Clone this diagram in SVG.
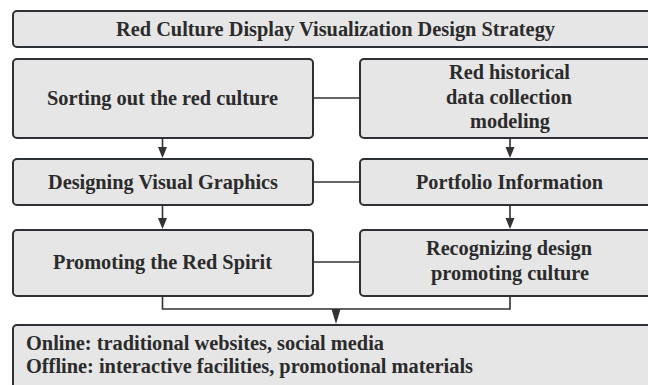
<svg xmlns="http://www.w3.org/2000/svg" width="648" height="385" viewBox="0 0 648 385">
<defs>
<style>
.box{fill:#e6e6e6;stroke:#2d3035;stroke-width:2}
.t{font-family:"Liberation Serif","Times New Roman",serif;font-weight:bold;font-size:20px;fill:#2b2b2b}
.c{fill:none;stroke:#333;stroke-width:1.6}
.ah{fill:#333}
</style>
</defs>
<rect width="648" height="385" fill="#fff"/>
<g id="title">
<rect class="box" x="13" y="11" width="660" height="36" rx="4"/>
<text class="t" x="116" y="36" textLength="439" lengthAdjust="spacingAndGlyphs">Red Culture Display Visualization Design Strategy</text>
</g>
<g id="n1">
<rect class="box" x="13" y="59" width="300" height="79" rx="4"/>
<text class="t" x="47" y="105" textLength="231" lengthAdjust="spacingAndGlyphs">Sorting out the red culture</text>
</g>
<g id="n2">
<rect class="box" x="360" y="59" width="300" height="79" rx="4"/>
<text class="t" x="449" y="79" textLength="121" lengthAdjust="spacingAndGlyphs">Red historical</text>
<text class="t" x="446" y="104" textLength="126" lengthAdjust="spacingAndGlyphs">data collection</text>
<text class="t" x="470" y="128" textLength="80" lengthAdjust="spacingAndGlyphs">modeling</text>
</g>
<g id="n3">
<rect class="box" x="13" y="159" width="300" height="46" rx="4"/>
<text class="t" x="48" y="189" textLength="230" lengthAdjust="spacingAndGlyphs">Designing Visual Graphics</text>
</g>
<g id="n4">
<rect class="box" x="360" y="159" width="300" height="46" rx="4"/>
<text class="t" x="416" y="189" textLength="187" lengthAdjust="spacingAndGlyphs">Portfolio Information</text>
</g>
<g id="n5">
<rect class="box" x="13" y="230" width="300" height="66" rx="4"/>
<text class="t" x="53" y="269" textLength="219" lengthAdjust="spacingAndGlyphs">Promoting the Red Spirit</text>
</g>
<g id="n6">
<rect class="box" x="360" y="230" width="300" height="66" rx="4"/>
<text class="t" x="426" y="255" textLength="166" lengthAdjust="spacingAndGlyphs">Recognizing design</text>
<text class="t" x="431" y="280" textLength="158" lengthAdjust="spacingAndGlyphs">promoting culture</text>
</g>
<g id="n7">
<rect class="box" x="13" y="325" width="660" height="80" rx="4"/>
<text class="t" x="26" y="350" textLength="358" lengthAdjust="spacingAndGlyphs">Online: traditional websites, social media</text>
<text class="t" x="26" y="373" textLength="447" lengthAdjust="spacingAndGlyphs">Offline: interactive facilities, promotional materials</text>
</g>
<g id="connectors">
<line class="c" x1="313" y1="98" x2="360" y2="98"/>
<line class="c" x1="313" y1="182" x2="360" y2="182"/>
<line class="c" x1="313" y1="262" x2="360" y2="262"/>
<line class="c" x1="162.5" y1="138" x2="162.5" y2="149"/>
<polygon class="ah" points="158,147 167,147 162.5,158"/>
<line class="c" x1="510" y1="138" x2="510" y2="149"/>
<polygon class="ah" points="505.5,147 514.5,147 510,158"/>
<line class="c" x1="162.5" y1="205" x2="162.5" y2="220"/>
<polygon class="ah" points="158,218 167,218 162.5,229"/>
<line class="c" x1="510" y1="205" x2="510" y2="220"/>
<polygon class="ah" points="505.5,218 514.5,218 510,229"/>
<polyline class="c" points="162.5,296 162.5,309 510,309 510,296"/>
<polygon class="ah" points="331.5,309 340.5,309 336,324"/>
</g>
</svg>
